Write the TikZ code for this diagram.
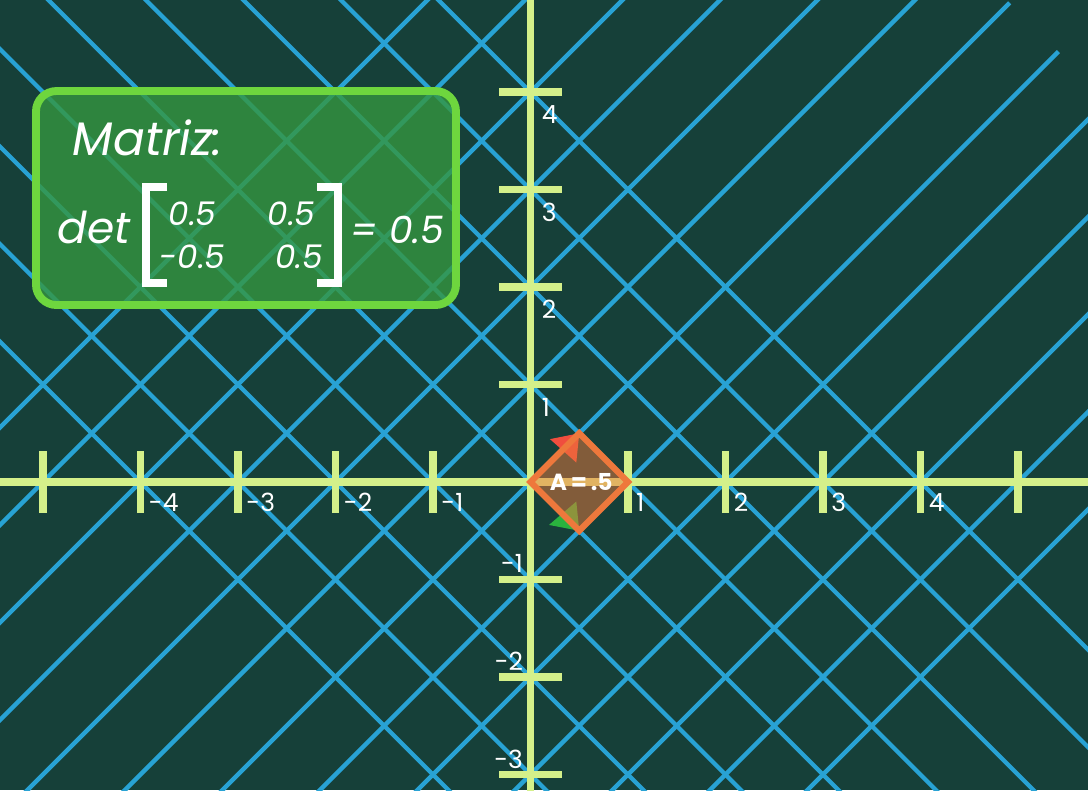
\documentclass[tikz,border=0pt]{standalone}
\usepackage{fontspec}
\setmainfont{Poppins}
\usepackage{tikz}
\usetikzlibrary{positioning}
\usepackage{xcolor}
\definecolor{cBack}{RGB}{22,64,57}
\definecolor{cGrid}{RGB}{40,162,212}
\definecolor{cAxis}{RGB}{212,240,138}
\definecolor{cBoxFill}{RGB}{53,150,64}
\definecolor{cBoxLine}{RGB}{110,214,62}
\definecolor{cSquare}{RGB}{238,120,60}
\definecolor{cIhat}{RGB}{42,178,62}
\definecolor{cJhat}{RGB}{240,78,62}
\tikzset{
  gridline/.style={cGrid, line width=1.25pt},
  axisline/.style={cAxis, line width=2.1pt},
  tickmark/.style={cAxis, line width=2.1pt},
  ticklabel/.style={text=white, inner sep=0pt,
                    font=\fontsize{7.3}{8}\selectfont},
  matbox/.style={rectangle, rounded corners=6pt, draw=cBoxLine,
                 line width=2.3pt, fill=cBoxFill, fill opacity=0.8,
                 minimum width=4.308cm, minimum height=2.195cm},
  boxtext/.style={text=white, inner sep=0pt},
  entry/.style={boxtext, anchor=base,
                font=\itshape\fontsize{9.5}{11}\selectfont},
  bracket/.style={white, line width=2.3pt},
  areasq/.style={draw=cSquare, line width=1.8pt, fill=cSquare,
                 fill opacity=0.5}
}

\begin{document}
\begin{tikzpicture}
  \path[use as bounding box, fill=cBack] (-5.441,-3.159) rectangle (5.718,4.944);
  \begin{scope}
    \clip (-5.441,-3.159) rectangle (5.718,4.944);
    % transformed grid lines
    \foreach \i in {-6,...,6}
      \draw[gridline] ({(\i-9.83)/2},{(-\i-9.83)/2}) -- ({(\i+9.83)/2},{(9.83-\i)/2});
    \foreach \j in {-4,...,4}
      \draw[gridline] ({(\j-12)/2},{(\j+12)/2}) -- ({(\j+12)/2},{(\j-12)/2});

    % axes and ticks
    \draw[axisline] (-5.6,0) -- (5.8,0);
    \draw[axisline] (0,-3.3) -- (0,5.1);
    \foreach \x in {-5,-4,-3,-2,-1,1,2,3,4,5}
      \draw[tickmark] (\x,-0.32) -- (\x,0.32);
    \foreach \y in {-3,-2,-1,1,2,3,4,5}
      \draw[tickmark] (-0.32,\y) -- (0.32,\y);
  \end{scope}

  % tick labels
  \foreach \x in {-4,-3,-2,-1,1,2,3,4}
    \node[ticklabel, anchor=west] (xl\x) at (\x+0.08,-0.21) {\x};
  \foreach \y in {1,2,3,4}
    \node[ticklabel, anchor=west] (yl\y) at (0.11,\y-0.23) {\y};
  \foreach \y in {-1,-2,-3}
    \node[ticklabel, anchor=east] (yl\y) at (-0.07,\y+0.16) {\y};

  % basis arrow tips and the unit square
  \fill[cJhat] (0.5,0.5) -- (0.2,0.44) -- (0.47,0.2) -- cycle;
  \fill[cIhat] (0.5,-0.5) -- (0.19,-0.44) -- (0.47,-0.2) -- cycle;
  \draw[areasq] (0,0) -- (0.5,-0.5) -- (1,0) -- (0.5,0.5) -- cycle;
  \node[text=white, inner sep=0pt, font=\bfseries\fontsize{6.8}{8}\selectfont]
      (area) at (0.52,0) {A\,=\,.5};

  % matrix box
  \node[matbox] (mbox) at (-2.918,2.913) {};
  \node[boxtext, anchor=base west, font=\itshape\fontsize{13.7}{16}\selectfont]
      (mtitle) at (-4.70,3.354) {Matriz:};
  \node[boxtext, anchor=base west, font=\itshape\fontsize{12.8}{14}\selectfont]
      (mdet) at (-4.856,2.451) {det};
  \node[entry] (m11) at (-3.467,2.636) {0.5};
  \node[entry] (m12) at (-2.451,2.636) {0.5};
  \node[entry] (m21) at (-3.467,2.195) {-0.5};
  \node[entry] (m22) at (-2.374,2.195) {0.5};
  \draw[bracket] (-3.728,3.026) -- (-3.944,3.026) -- (-3.944,2.041) -- (-3.728,2.041);
  \draw[bracket] (-2.190,3.026) -- (-1.974,3.026) -- (-1.974,2.041) -- (-2.190,2.041);
  \node[boxtext, anchor=base west, font=\itshape\fontsize{11}{13}\selectfont]
      (mres) at (-1.851,2.451) {= 0.5};
\end{tikzpicture}
\end{document}
